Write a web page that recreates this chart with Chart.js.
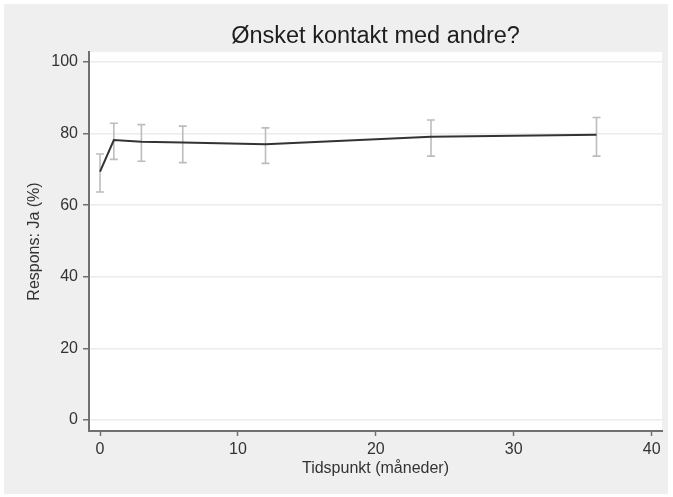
<!DOCTYPE html>
<html lang="no"><head><meta charset="utf-8"><title>Ønsket kontakt med andre?</title>
<script src="https://cdn.jsdelivr.net/npm/chart.js@4"></script>
<style>
  html, body { margin: 0; background: #ffffff; }
  /* Stata-style graph region: grey panel inset a few pixels from the white page. */
  .panel { position: absolute; left: 4px; top: 4px; width: 664px; height: 490px; background: #efefef; }
</style></head>
<body>
<div class="panel"><canvas id="c" width="664" height="490"></canvas></div>
<script>
// Follow-up time points (months) and share answering "Ja", with 95% CI bounds.
const MONTHS = [0, 1, 3, 6, 12, 24, 36];
const PCT    = [69.4, 78.2, 77.7, 77.5, 77.0, 79.1, 79.7];
const LO     = [63.7, 72.8, 72.3, 71.9, 71.7, 73.7, 73.7];
const HI     = [74.3, 82.9, 82.5, 82.1, 81.6, 83.8, 84.5];

const X_TICKS = [0, 10, 20, 30, 40];
const Y_TICKS = [0, 20, 40, 60, 80, 100];

const INK = '#333333', AXIS = '#707070', CI = '#bdbdbd', GRID = '#ececec';
const FONT = 'Arial, "Liberation Sans", sans-serif';

// White plot region behind the marks (the panel round it stays grey).
const plotBg = {
  id: 'plotBg',
  beforeDraw(chart) {
    const { ctx, chartArea: a } = chart;
    ctx.save();
    ctx.fillStyle = '#ffffff';
    ctx.fillRect(a.left, a.top, a.right - a.left, a.bottom - a.top);
    ctx.restore();
  },
};

// Capped CI whiskers, placed through the chart's own scales.
const errorBars = {
  id: 'errorBars',
  beforeDatasetsDraw(chart) {
    const { ctx, scales: { x, y } } = chart;
    ctx.save();
    ctx.strokeStyle = CI;
    ctx.lineWidth = 1.6;
    MONTHS.forEach((m, i) => {
      const px = x.getPixelForValue(m);
      const y1 = y.getPixelForValue(LO[i]);
      const y2 = y.getPixelForValue(HI[i]);
      ctx.beginPath();
      ctx.moveTo(px, y1); ctx.lineTo(px, y2);
      ctx.moveTo(px - 4, y1); ctx.lineTo(px + 4, y1);
      ctx.moveTo(px - 4, y2); ctx.lineTo(px + 4, y2);
      ctx.stroke();
    });
    ctx.restore();
  },
};

new Chart(document.getElementById('c'), {
  type: 'line',
  data: {
    datasets: [{
      data: MONTHS.map((m, i) => ({ x: m, y: PCT[i] })),
      borderColor: INK,
      borderWidth: 2,
      pointRadius: 0,
      tension: 0,
      fill: false,
    }],
  },
  options: {
    responsive: false, animation: false, devicePixelRatio: 1,
    layout: { padding: { left: 0, right: 6, top: 0, bottom: 0 } },
    plugins: {
      legend: { display: false },
      tooltip: { enabled: false },
      title: {
        display: true, fullSize: false,
        text: 'Ønsket kontakt med andre?',
        color: '#1e1e1e',
        font: { family: FONT, size: 23.5, weight: 'normal', lineHeight: 1.2 },
        padding: { top: 18.6, bottom: 1.2 },
      },
    },
    scales: {
      x: {
        type: 'linear', min: -0.8, max: 40.75,
        afterFit: s => { s.height = 63; },
        afterBuildTicks: s => { s.ticks = X_TICKS.map(v => ({ value: v })); },
        grid: { drawOnChartArea: false, drawTicks: true, tickLength: 5, tickColor: AXIS, tickWidth: 1.5 },
        border: { display: true, color: AXIS, width: 2 },
        ticks: { color: '#333333', padding: 4, maxRotation: 0, font: { family: FONT, size: 16 } },
        title: {
          display: true, text: 'Tidspunkt (måneder)', color: '#333333',
          font: { family: FONT, size: 16, lineHeight: 1.2 },
          padding: { top: 0, bottom: 15.4 },
        },
      },
      y: {
        type: 'linear', min: -3.07, max: 102.8,
        afterFit: s => { s.width = 85; },
        afterBuildTicks: s => { s.ticks = Y_TICKS.map(v => ({ value: v })); },
        grid: { color: GRID, lineWidth: 1.5, drawTicks: true, tickLength: 6, tickColor: AXIS, tickWidth: 1.5 },
        border: { display: true, color: AXIS, width: 2 },
        ticks: { color: '#333333', padding: 5, font: { family: FONT, size: 16 } },
        title: {
          display: true, text: 'Respons: Ja (%)', color: '#333333',
          font: { family: FONT, size: 16, lineHeight: 1.2 },
          padding: { top: 21, bottom: 0 },
        },
      },
    },
  },
  plugins: [plotBg, errorBars],
});
</script>
</body></html>
